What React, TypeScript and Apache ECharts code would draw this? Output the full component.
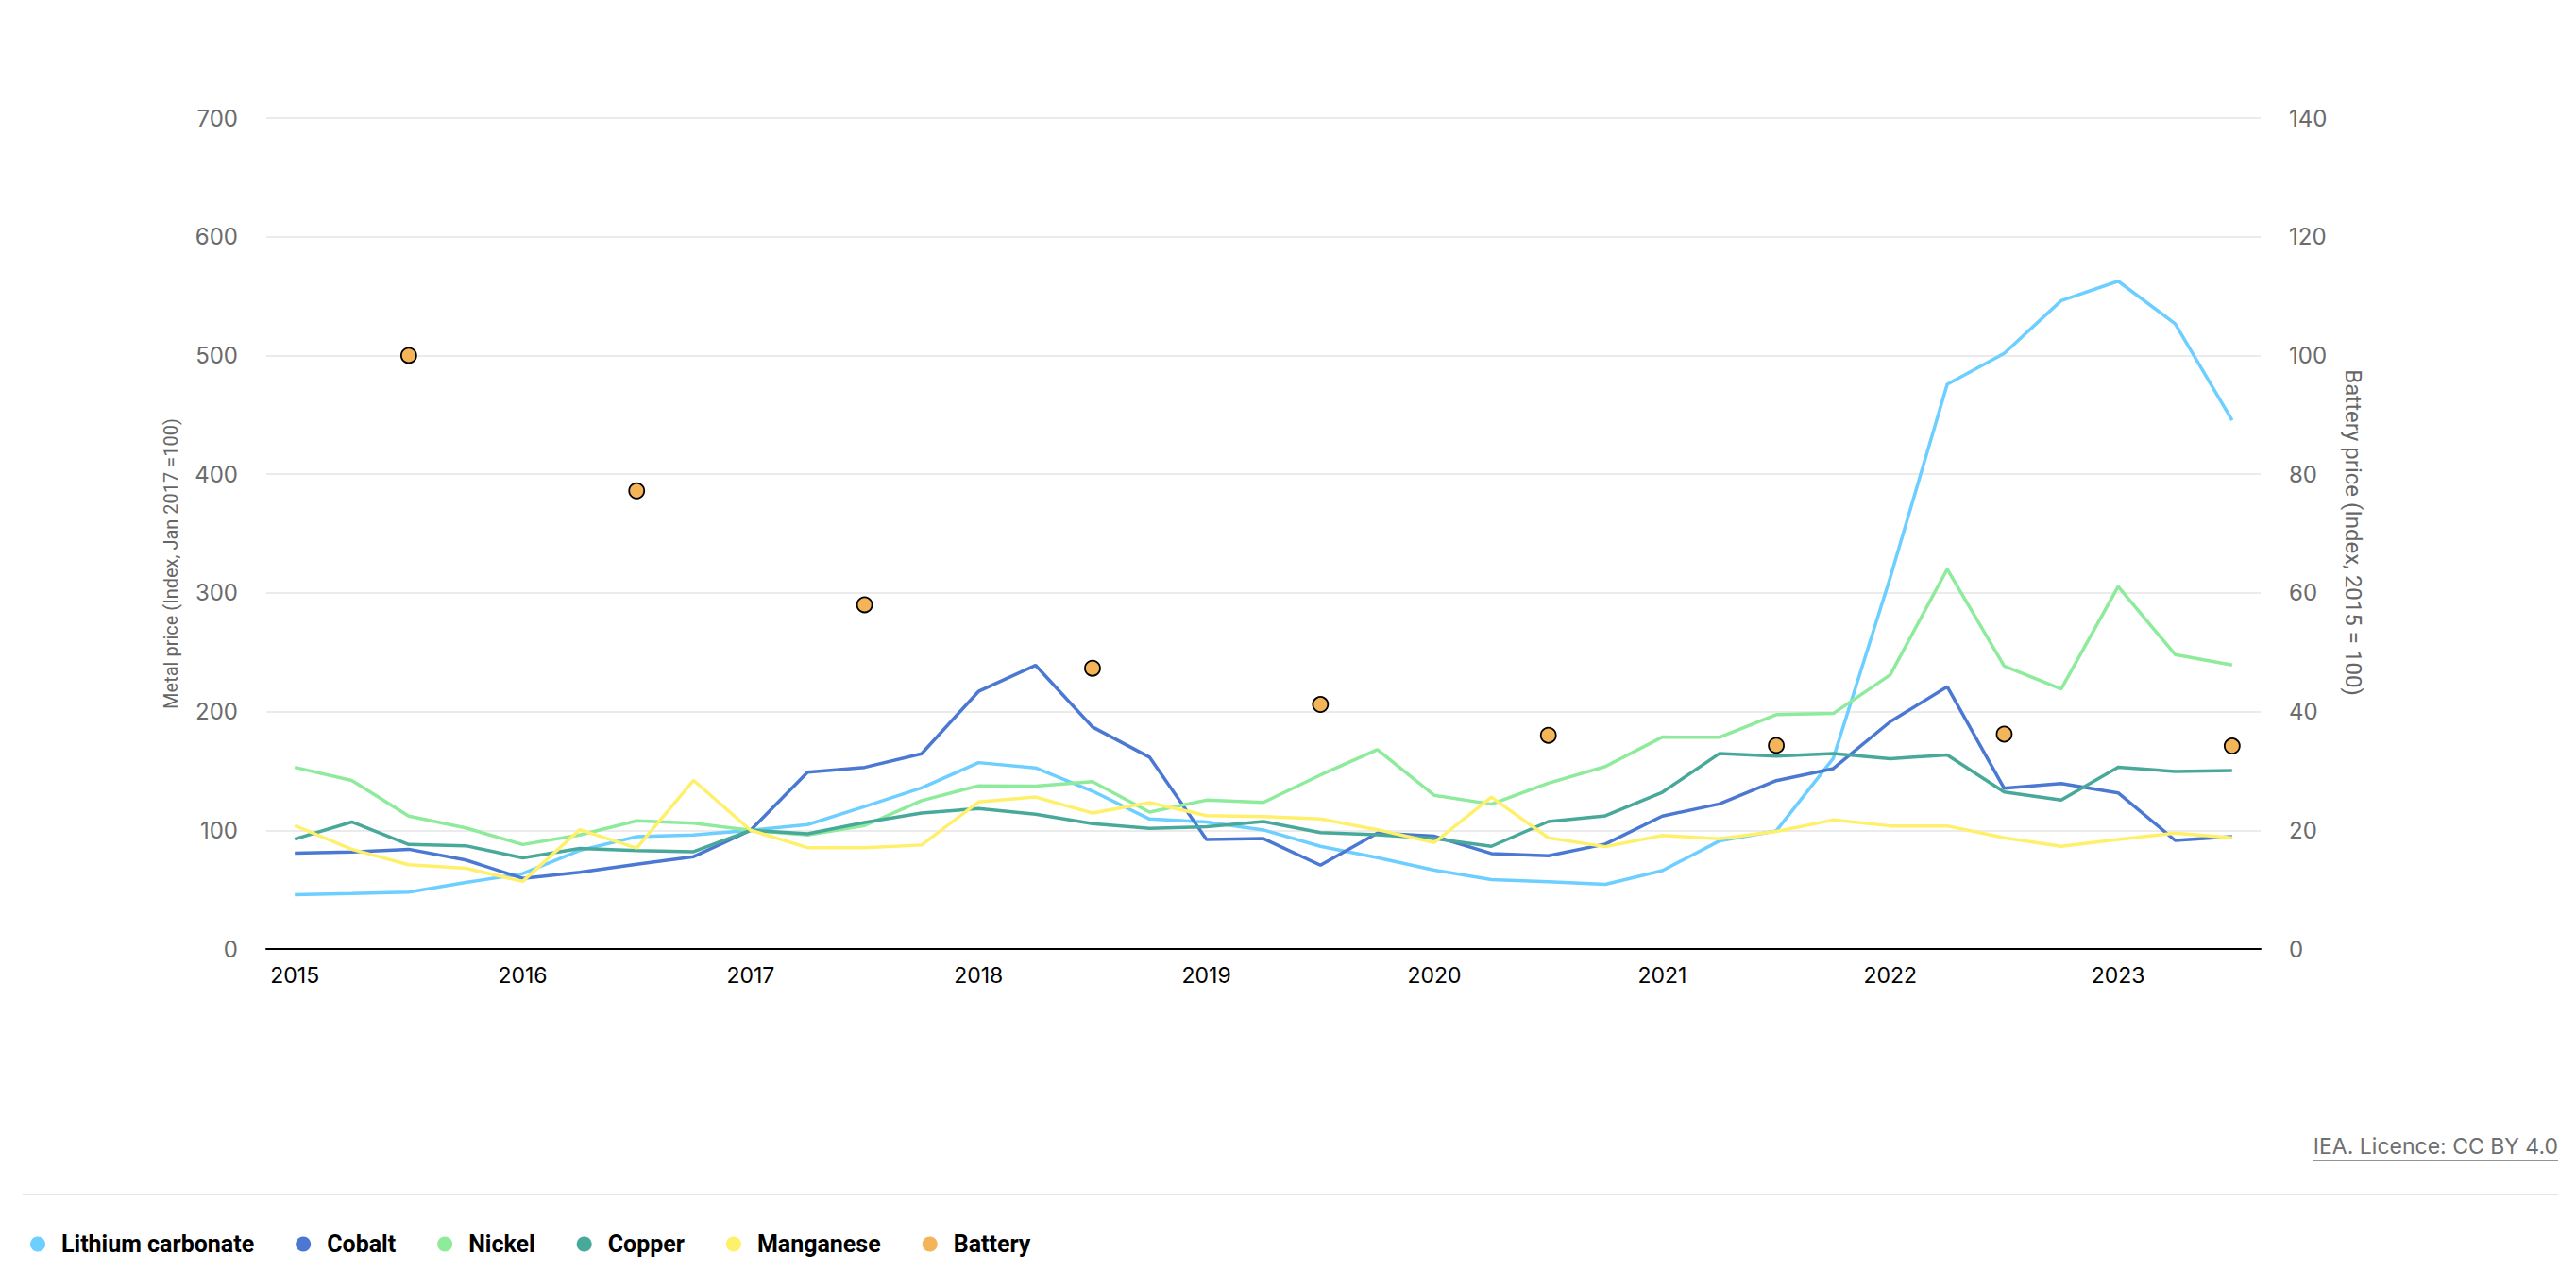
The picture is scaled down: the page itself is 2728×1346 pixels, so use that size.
import { useEffect, useRef } from 'react'
import * as echarts from 'echarts'

const YEARS = ['2015', '2016', '2017', '2018', '2019', '2020', '2021', '2022', '2023']
// quarterly categories, 2015 Q1 .. 2023 Q3
const QUARTERS = YEARS.flatMap((y) => ['Q1', 'Q2', 'Q3', 'Q4'].map((q) => `${y} ${q}`)).slice(0, 35)

const LITHIUM = [
  45.8, 46.8, 47.9, 56, 63.5, 83, 94.7, 96, 100, 104.8, 120, 135.7, 157, 152.6, 133, 109.5, 107, 100.3,
  86.5, 77, 66.4, 58.5, 56.6, 54.5, 66, 91, 99.5, 160.6, 313, 475.7, 501.8, 546.2, 562.6, 526.7, 445.3,
]
const COBALT = [
  80.7, 81.7, 84, 75, 59.5, 64.6, 71.4, 77.8, 100, 149, 153, 164.5, 217, 239, 187, 161.6, 92.3, 93, 70.6,
  97.6, 95, 80.4, 78.6, 88.4, 112, 122.2, 141.8, 152, 191.5, 221, 135.4, 139.4, 131.5, 91.5, 94.7,
]
const NICKEL = [
  153, 142, 112, 102, 88, 96, 108, 106, 100, 96, 104, 125, 137.5, 137.3, 141, 115.3, 125.4, 123.5, 146.6,
  168, 129.4, 122, 139.7, 153.7, 178.5, 178.3, 197.4, 198.4, 231, 320, 238.4, 219, 305.4, 248, 239.2,
]
const COPPER = [
  92.6, 107, 88, 87, 76.7, 84.7, 83, 82, 100, 97, 106.6, 114.5, 118.4, 113.5, 105.6, 101.6, 103, 107.4, 98,
  96.3, 93, 86.5, 107.4, 112.2, 132, 164.6, 162.4, 164.6, 160.3, 163.5, 132.3, 125.4, 153.2, 149.5, 150.3,
]
const MANGANESE = [
  104, 84, 71, 68, 57, 100.5, 85, 142, 100, 85.4, 85.4, 87.6, 123.8, 128, 114.5, 123.3, 112.4, 111.6, 109.5,
  100.5, 89.7, 128, 93.7, 86.2, 95.6, 92.9, 99, 108.7, 103.7, 103.7, 93.7, 86.5, 92.3, 97.6, 93.7,
]
// battery pack price, mid-year points (right axis)
const BATTERY_QUARTERS = YEARS.map((y) => `${y} Q3`)
const BATTERY = [100, 77.2, 58, 47.3, 41.2, 36, 34.3, 36.2, 34.2]

const LEFT_TICKS = { min: 0, max: 700, interval: 100 }
const RIGHT_TICKS = { min: 0, max: 140, interval: 20 }

const LEFT_NAME = 'Metal price (Index, Jan 2017 =100)'
const RIGHT_NAME = 'Battery price (Index, 2015 = 100)'
const LICENCE = 'IEA. Licence: CC BY 4.0'
const FONT = 'Inter, "Noto Sans", sans-serif'
const NAME_FONT = 'Roboto, sans-serif'

function textWidth(text: string, font: string) {
  const ctx = document.createElement('canvas').getContext('2d')
  if (!ctx) return text.length * 11
  ctx.font = font
  return ctx.measureText(text).width
}

export default function App() {
  const elRef = useRef<HTMLDivElement>(null)

  useEffect(() => {
    if (!elRef.current) return
    document.body.style.margin = '0'
    const chart = echarts.init(elRef.current, null, { renderer: 'svg' })

    const lineSeries = (name: string, data: number[], color: string) => ({
      name,
      type: 'line',
      data,
      yAxisIndex: 0,
      symbol: 'none',
      lineStyle: { color, width: 3.5 },
      itemStyle: { color },
    })

    const licFont = `23px ${FONT}`
    const licW = textWidth(LICENCE, licFont)

    chart.setOption({
      animation: false,
      backgroundColor: '#fff',
      textStyle: { fontFamily: FONT },
      grid: { left: 282, right: 334, top: 125, bottom: 341 },
      legend: {
        left: 27,
        top: 1300,
        icon: 'circle',
        itemWidth: 16,
        itemHeight: 16,
        itemGap: 44,
        itemStyle: { borderWidth: 0 },
        textStyle: {
          fontFamily: NAME_FONT,
          fontWeight: 'bold',
          fontSize: 25,
          color: '#000',
          padding: [0, 0, 0, 12],
        },
        data: ['Lithium carbonate', 'Cobalt', 'Nickel', 'Copper', 'Manganese', 'Battery'],
      },
      xAxis: {
        type: 'category',
        data: QUARTERS,
        boundaryGap: true,
        axisLine: { lineStyle: { color: '#000', width: 2 } },
        axisTick: { interval: 3, alignWithLabel: true, length: 12, lineStyle: { color: '#000', width: 2 } },
        axisLabel: {
          interval: 3,
          margin: 16,
          color: '#000',
          fontSize: 23,
          formatter: (v: string) => v.slice(0, 4),
        },
        splitLine: { show: false },
      },
      yAxis: [
        {
          type: 'value',
          ...LEFT_TICKS,
          axisLine: { show: false },
          axisTick: { show: false },
          axisLabel: { color: '#6b6b6b', fontSize: 24, margin: 30 },
          splitLine: { lineStyle: { color: '#e4e4e4', width: 1.5 } },
        },
        {
          type: 'value',
          position: 'right',
          ...RIGHT_TICKS,
          axisLine: { show: false },
          axisTick: { show: false },
          axisLabel: { color: '#6b6b6b', fontSize: 24, margin: 30 },
          splitLine: { show: false },
        },
      ],
      graphic: [
        {
          type: 'text',
          x: 181,
          y: 597,
          rotation: Math.PI / 2,
          style: {
            text: LEFT_NAME,
            font: `20px ${NAME_FONT}`,
            fill: '#666',
            align: 'center',
            verticalAlign: 'middle',
          },
        },
        {
          type: 'text',
          x: 2492,
          y: 564,
          rotation: -Math.PI / 2,
          style: {
            text: RIGHT_NAME,
            font: `24px ${NAME_FONT}`,
            fill: '#666',
            align: 'center',
            verticalAlign: 'middle',
          },
        },
        {
          type: 'line',
          shape: { x1: 24, y1: 1265, x2: 2709, y2: 1265 },
          style: { stroke: '#e5e5e5', lineWidth: 2 },
        },
        {
          type: 'text',
          x: 2709,
          y: 1214,
          style: {
            text: LICENCE,
            font: licFont,
            fill: '#6f6f6f',
            align: 'right',
            verticalAlign: 'middle',
          },
        },
        {
          type: 'line',
          shape: { x1: 2709 - licW, y1: 1229, x2: 2709, y2: 1229 },
          style: { stroke: '#6f6f6f', lineWidth: 1.5 },
        },
      ],
      series: [
        lineSeries('Lithium carbonate', LITHIUM, '#6dcfff'),
        lineSeries('Cobalt', COBALT, '#4a78d2'),
        lineSeries('Nickel', NICKEL, '#8eeb9c'),
        lineSeries('Copper', COPPER, '#48a99b'),
        lineSeries('Manganese', MANGANESE, '#fff06c'),
        {
          name: 'Battery',
          type: 'scatter',
          yAxisIndex: 1,
          symbolSize: 16,
          z: 5,
          data: BATTERY_QUARTERS.map((q, i) => [q, BATTERY[i]]),
          itemStyle: { color: '#f4b458', borderColor: '#000', borderWidth: 1.8, opacity: 1 },
        },
      ],
    })

    const onResize = () => chart.resize()
    window.addEventListener('resize', onResize)
    return () => {
      window.removeEventListener('resize', onResize)
      chart.dispose()
    }
  }, [])

  return <div ref={elRef} style={{ position: 'fixed', left: 0, top: 0, width: 2728, height: 1346 }} />
}
